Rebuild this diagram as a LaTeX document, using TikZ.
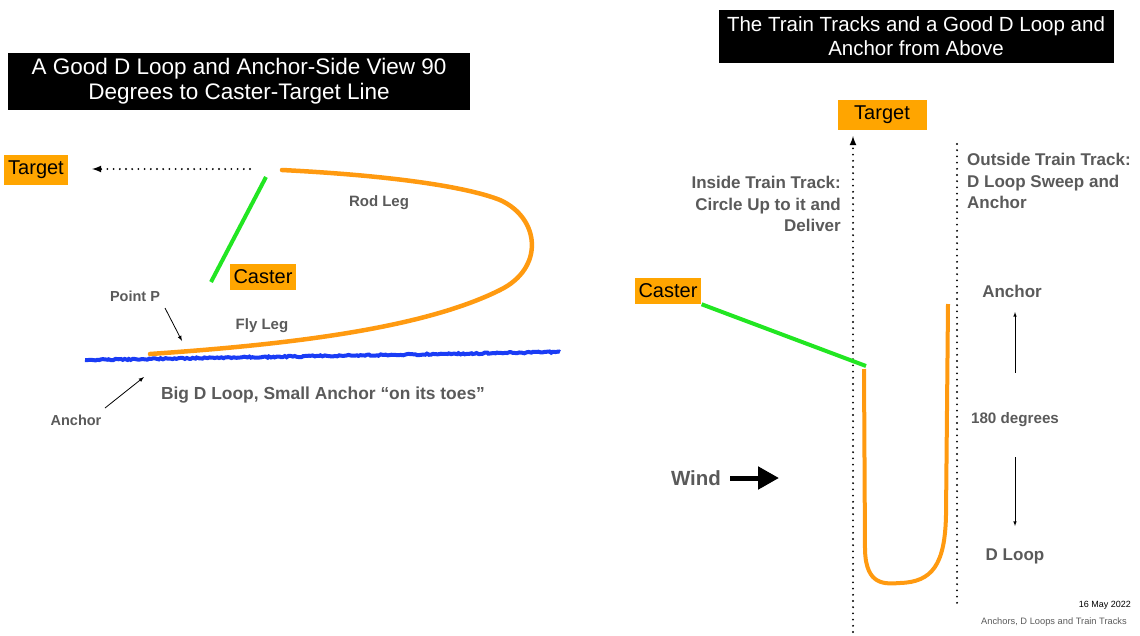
\documentclass[tikz,border=0pt]{standalone}
\usepackage{fontspec}
\setmainfont{Liberation Sans}
\usetikzlibrary{arrows,arrows.meta,positioning,decorations.pathmorphing}
\definecolor{castorange}{HTML}{FFA500}
\definecolor{loopline}{HTML}{FF9A10}
\definecolor{labelgray}{HTML}{5A5A5A}
\definecolor{castgreen}{HTML}{22E622}
\definecolor{crayonblue}{HTML}{1A3CF5}

\begin{document}
\begin{tikzpicture}[x=1pt,y=-1pt]
	\tikzstyle{titlebox}=[fill=black, text=white, align=center, inner sep=0pt]
	\tikzstyle{orangebox}=[fill=castorange, text=black, inner xsep=4pt, inner ysep=6pt, font=\fontsize{20}{22}\selectfont]
	\tikzstyle{graylabel}=[text=labelgray, font=\bfseries\fontsize{15}{21}\selectfont, inner sep=0pt]
	\tikzstyle{track}=[line width=2.1pt, line cap=round, dash pattern=on 0pt off 6.2pt]
	\tikzstyle{loop}=[loopline, line width=4.5pt, line cap=round]
	\tikzstyle{rod}=[castgreen, line width=4pt]
	\tikzstyle{pointer}=[-latex, line width=0.8pt]

	\useasboundingbox (0,0) rectangle (1140,635);

	% side view
	\node[titlebox, minimum width=462pt, minimum height=57pt, font=\fontsize{22.5}{25}\selectfont] (lefttitle) at (239,81) {A Good D Loop and Anchor-Side View 90\\Degrees to Caster-Target Line};
	\node[orangebox] (ltarget) at (36,170) {Target};
	\node[orangebox] (lcaster) at (263,277) {Caster};
	\coordinate (aimstart) at (250,169);
	\coordinate (aimend) at (92,169);
	\draw[track, -latex] (aimstart) -- (aimend);

	\coordinate (rodtop) at (266,177);
	\coordinate (rodbottom) at (211,282);
	\draw[rod] (rodtop) -- (rodbottom);

	\coordinate (looptop) at (282,170);
	\coordinate (pointp) at (150,354);
	\draw[loop] (looptop) .. controls (400,176) and (470,188) .. (500,200)
		.. controls (540,218) and (545,268) .. (500,290)
		.. controls (420,330) and (280,345) .. (pointp);

	\draw[crayonblue, line width=4pt, decorate, decoration={random steps, segment length=2pt, amplitude=0.7pt}] (85,360) -- (560,352);

	\node[graylabel] (rodleg) at (379,203) {Rod Leg};
	\node[graylabel] (flyleg) at (262,326) {Fly Leg};
	\node[graylabel, font=\bfseries\fontsize{14.5}{16}\selectfont] (pointlbl) at (135,296) {Point P};
	\node[graylabel, font=\bfseries\fontsize{14.5}{16}\selectfont] (lanchor) at (76,420) {Anchor};
	\node[graylabel, font=\bfseries\fontsize{17.4}{20}\selectfont] (bigloop) at (323,395) {Big D Loop, Small Anchor “on its toes”};
	\coordinate (ppoint) at (182,341);
	\coordinate (apoint) at (144,377);
	\draw[pointer] (165,308) -- (ppoint);
	\draw[pointer] (105,408) -- (apoint);

	% top view
	\node[titlebox, minimum width=395pt, minimum height=53pt, font=\fontsize{20.5}{24}\selectfont] (righttitle) at (916,36) {The Train Tracks and a Good D Loop and\\Anchor from Above};
	\node[orangebox, minimum width=89pt] (rtarget) at (882,115) {Target};
	\node[orangebox] (rcaster) at (668,291) {Caster};

	\coordinate (insidebottom) at (853,632);
	\coordinate (insidetop) at (853,136);
	\draw[track, -latex] (insidebottom) -- (insidetop);
	\coordinate (outsidetop) at (957,144);
	\coordinate (outsidebottom) at (957,604);
	\draw[track] (outsidetop) -- (outsidebottom);

	\node[graylabel, align=right, anchor=north east, font=\bfseries\fontsize{17}{21.5}\selectfont] (inside) at (841,176) {Inside Train Track:\\Circle Up to it and\\Deliver};
	\node[graylabel, align=left, anchor=north west, font=\bfseries\fontsize{17}{21.5}\selectfont] (outside) at (967,153) {Outside Train Track:\\D Loop Sweep and\\Anchor};

	\coordinate (rodtip) at (866,366);
	\draw[rod] (rcaster.south east) -- (rodtip);

	\draw[loop, line width=4pt, line cap=butt] (864,369) -- (865,550)
		.. controls (866,586) and (885,584) .. (900,583)
		.. controls (932,582) and (945,565) .. (946,515) -- (948,304);

	\node[graylabel, font=\bfseries\fontsize{17}{20}\selectfont] (ranchor) at (1012,291) {Anchor};
	\node[graylabel, font=\bfseries\fontsize{15.2}{18}\selectfont] (degrees) at (1015,420) {180 degrees};
	\node[graylabel, font=\bfseries\fontsize{17}{20}\selectfont] (dloop) at (1015,556) {D Loop};
	\draw[pointer, line width=0.6pt] (degrees.north) ++(0,-40) -- (1015,312);
	\draw[pointer, line width=0.6pt] (degrees.south) ++(0,30) -- (1015,526);

	\node[graylabel, font=\bfseries\fontsize{20.5}{22}\selectfont] (wind) at (696,478) {Wind};
	\coordinate (windhead) at (779,478);
	\draw[line width=5pt, -{Triangle[length=21pt, width=22pt]}] (730,478) -- (windhead);

	\node[inner sep=0pt, anchor=east, font=\fontsize{9}{11}\selectfont] (datestamp) at (1131,605) {16 May 2022};
	\node[text=labelgray, inner sep=0pt, anchor=east, font=\fontsize{9.3}{11}\selectfont] (footer) at (1127,622) {Anchors, D Loops and Train Tracks};
\end{tikzpicture}
\end{document}
